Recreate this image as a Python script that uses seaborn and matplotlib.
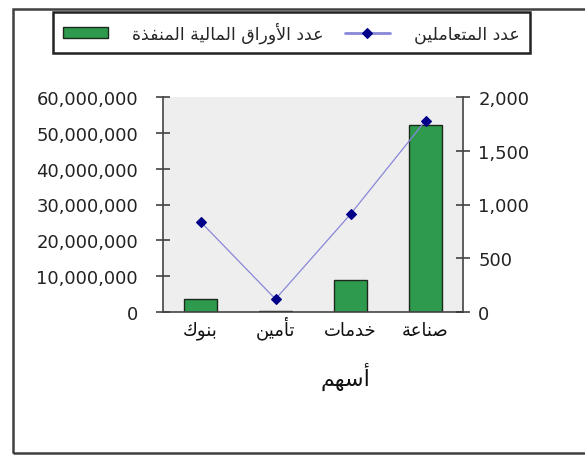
import matplotlib
matplotlib.use("Agg")
import matplotlib.pyplot as plt
import matplotlib.patches as mpatches
import matplotlib.ticker as mticker
import seaborn as sns

# ---------------- data ----------------
categories = ['بنوك', 'تأمين', 'خدمات', 'صناعة']
securities = [3600000, 150000, 8800000, 52200000]   # عدد الأوراق المالية المنفذة (left axis)
traders = [840, 120, 910, 1780]                      # عدد المتعاملين (right axis)
series_bar = 'عدد الأوراق المالية المنفذة'
series_line = 'عدد المتعاملين'
x_title = 'أسهم'
left_ticks = [0, 10000000, 20000000, 30000000, 40000000, 50000000, 60000000]
right_ticks = [0, 500, 1000, 1500, 2000]

# ------------- simple Arabic shaping (presentation forms, visual order) -------------
FORMS = {
    '\u0627': ('\uFE8D', '\uFE8E', None, None),
    '\u0623': ('\uFE83', '\uFE84', None, None),
    '\u0628': ('\uFE8F', '\uFE90', '\uFE91', '\uFE92'),
    '\u0629': ('\uFE93', '\uFE94', None, None),
    '\u062A': ('\uFE95', '\uFE96', '\uFE97', '\uFE98'),
    '\u062E': ('\uFEA5', '\uFEA6', '\uFEA7', '\uFEA8'),
    '\u062F': ('\uFEA9', '\uFEAA', None, None),
    '\u0630': ('\uFEAB', '\uFEAC', None, None),
    '\u0631': ('\uFEAD', '\uFEAE', None, None),
    '\u0633': ('\uFEB1', '\uFEB2', '\uFEB3', '\uFEB4'),
    '\u0635': ('\uFEB9', '\uFEBA', '\uFEBB', '\uFEBC'),
    '\u0639': ('\uFEC9', '\uFECA', '\uFECB', '\uFECC'),
    '\u0641': ('\uFED1', '\uFED2', '\uFED3', '\uFED4'),
    '\u0642': ('\uFED5', '\uFED6', '\uFED7', '\uFED8'),
    '\u0643': ('\uFED9', '\uFEDA', '\uFEDB', '\uFEDC'),
    '\u0644': ('\uFEDD', '\uFEDE', '\uFEDF', '\uFEE0'),
    '\u0645': ('\uFEE1', '\uFEE2', '\uFEE3', '\uFEE4'),
    '\u0646': ('\uFEE5', '\uFEE6', '\uFEE7', '\uFEE8'),
    '\u0647': ('\uFEE9', '\uFEEA', '\uFEEB', '\uFEEC'),
    '\u0648': ('\uFEED', '\uFEEE', None, None),
    '\u064A': ('\uFEF1', '\uFEF2', '\uFEF3', '\uFEF4'),
}
LAM_ALEF = {'\u0627': ('\uFEFB', '\uFEFC'), '\u0623': ('\uFEF7', '\uFEF8')}


def shape(text):
    units = []
    i = 0
    while i < len(text):
        c = text[i]
        if c == '\u0644' and i + 1 < len(text) and text[i + 1] in LAM_ALEF:
            units.append(('LA', text[i + 1]))
            i += 2
        else:
            units.append(('C', c))
            i += 1

    def dual(u):
        return u[0] == 'C' and u[1] in FORMS and FORMS[u[1]][2] is not None

    def arabic(u):
        return u[0] == 'LA' or u[1] in FORMS

    out = []
    for k, u in enumerate(units):
        prev = units[k - 1] if k > 0 else None
        nxt = units[k + 1] if k + 1 < len(units) else None
        jp = prev is not None and dual(prev) and arabic(u)
        jn = nxt is not None and dual(u) and arabic(nxt)
        if u[0] == 'LA':
            out.append(LAM_ALEF[u[1]][1 if jp else 0])
        elif u[1] in FORMS:
            f = FORMS[u[1]]
            if jp and jn:
                out.append(f[3])
            elif jp:
                out.append(f[1])
            elif jn:
                out.append(f[2])
            else:
                out.append(f[0])
        else:
            out.append(u[1])
    return ''.join(reversed(out))


# ---------------- figure ----------------
sns.set_style("white")
plt.rcParams['font.family'] = ['DejaVu Sans']

W, H = 585, 456
fig = plt.figure(figsize=(W / 100, H / 100), dpi=100)

# outer chart border
fig.add_artist(mpatches.Rectangle((13 / W, 2 / H), 1.2, (446 - 2) / H, transform=fig.transFigure,
                                  fill=False, edgecolor='#404040', linewidth=1.8))

ax = fig.add_axes([163 / W, (H - 313) / H, 300 / W, 215 / H])
ax.set_facecolor('#eeeeee')

sns.barplot(x=categories, y=securities, order=categories, ax=ax, color='#2e9a4e',
            width=0.43, edgecolor='#1c2a1c', linewidth=1.0, saturation=1)

ax2 = ax.twinx()
sns.pointplot(x=categories, y=traders, order=categories, ax=ax2, color='#8080d4',
              markers='D', errorbar=None)
for ln in ax2.lines:
    ln.set_color('#8888d8')
    ln.set_linewidth(0.9)
    ln.set_marker('D')
    ln.set_markersize(5)
    ln.set_markeredgewidth(0.8)
    ln.set_markerfacecolor('#000088')
    ln.set_markeredgecolor('#000088')
    ln.set_zorder(5)

ax.set_xlim(-0.5, len(categories) - 0.5)
ax.set_ylim(0, 60000000)
ax2.set_ylim(0, 2000)
ax.set_yticks(left_ticks)
ax2.set_yticks(right_ticks)
ax.yaxis.set_major_formatter(mticker.FuncFormatter(lambda v, p: f'{v:,.0f}'))
ax2.yaxis.set_major_formatter(mticker.FuncFormatter(lambda v, p: f'{v:,.0f}'))

ax.set_xticks(range(len(categories)))
ax.set_xticklabels([shape(c) for c in categories], fontsize=13)
for lbl in ax.get_xticklabels():
    lbl.set_verticalalignment('baseline')
ax.set_xticks([i - 0.5 for i in range(len(categories) + 1)], minor=True)
ax.tick_params(axis='x', which='major', length=0, pad=16.5, colors='#111111')
ax.tick_params(axis='x', which='minor', direction='inout', length=10, width=1.1, color='#333333')
ax.tick_params(axis='y', direction='inout', length=10, width=1.1, color='#333333',
               labelsize=13, pad=13, labelcolor='#222222')
ax2.tick_params(axis='y', direction='inout', length=10, width=1.1, color='#333333',
                labelsize=13, pad=6, labelcolor='#222222')
ax.set_xlabel('')
ax.set_ylabel('')
ax2.set_xlabel('')
ax2.set_ylabel('')

for a in (ax, ax2):
    for s in a.spines.values():
        s.set_color('#444444')
        s.set_linewidth(1.2)
    a.spines['top'].set_visible(False)
ax.spines['right'].set_visible(False)
ax2.spines['left'].set_visible(False)
ax2.spines['bottom'].set_visible(False)
ax.grid(False)
ax2.grid(False)

fig.text(345 / W, 1 - 386 / H, shape(x_title), ha='center', va='baseline', fontsize=16, color='#111111')

leg = fig.legend(handles=[ax.containers[0], ax2.lines[0]],
                 labels=[shape(series_bar), shape(series_line)],
                 loc='center', bbox_to_anchor=(291.5 / W, 1 - 33.5 / H), bbox_transform=fig.transFigure,
                 ncol=2, fontsize=12.5, frameon=True, fancybox=False, framealpha=1,
                 handlelength=2.6, handleheight=0.6, handletextpad=1.4, columnspacing=1.2,
                 borderpad=0.55, borderaxespad=0, numpoints=1)
leg.get_frame().set_edgecolor('#222222')
leg.get_frame().set_linewidth(1.8)
for h in leg.legend_handles:
    if hasattr(h, 'set_linewidth') and not isinstance(h, mpatches.Patch):
        h.set_linewidth(2.0)

fig.savefig('out.png', dpi=100)
